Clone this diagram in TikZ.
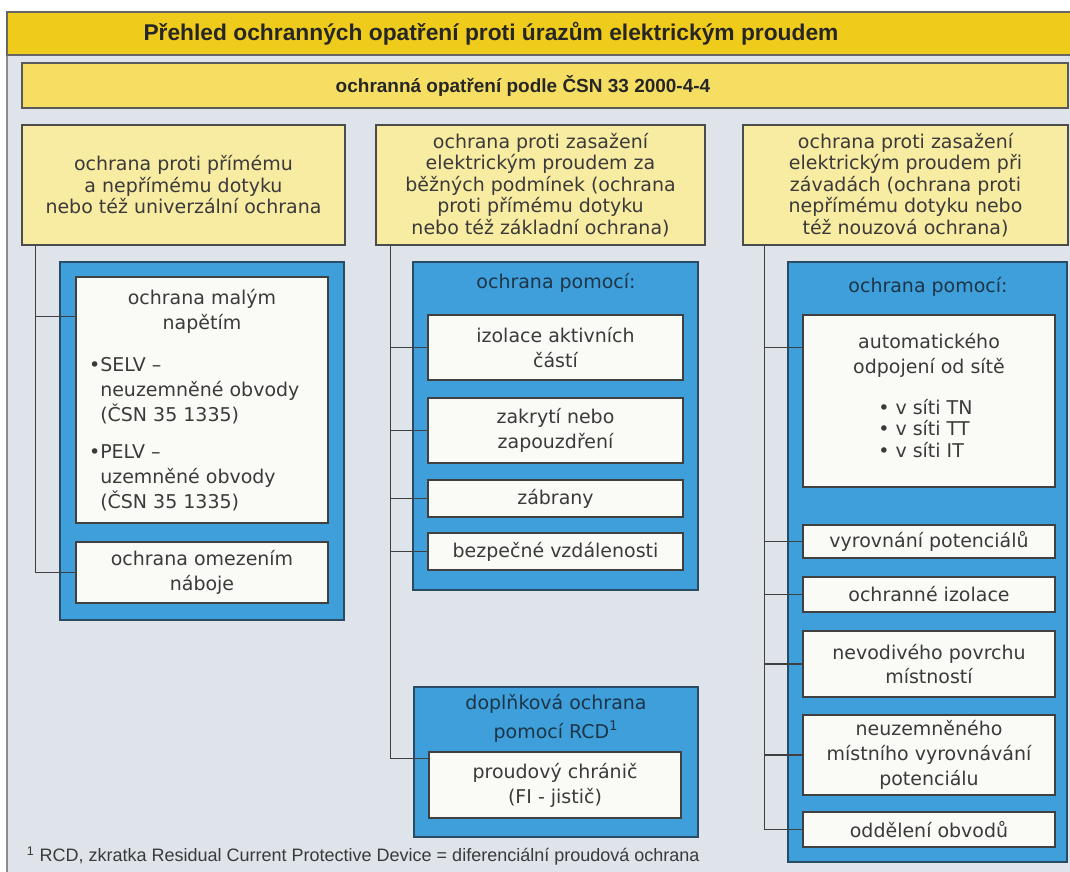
\documentclass[tikz,border=0pt]{standalone}
\usepackage{fontspec}
\setmainfont{DejaVu Sans}
\newfontfamily\headfont{Liberation Sans}
\definecolor{TitleGold}{HTML}{EFCB1C}
\definecolor{SubYellow}{HTML}{F6DE63}
\definecolor{BoxYellow}{HTML}{F8EBA2}
\definecolor{PanelGray}{HTML}{DEE4E9}
\definecolor{BoxBlue}{HTML}{3E9FDB}
\definecolor{EdgeBlue}{HTML}{2A4B63}
\definecolor{BoxWhite}{HTML}{FAFAF6}
\definecolor{TextGray}{HTML}{3A3A3A}
\definecolor{HeadNavy}{HTML}{1D3547}
\usetikzlibrary{calc, positioning}
\newlength\px
\setlength\px{0.025cm}

\tikzset{
  boxsize/.style 2 args={minimum width=#1\px, minimum height=#2\px},
  ybox/.style={draw=black!70, line width=1pt, fill=BoxYellow, inner sep=0pt,
     align=center, text=TextGray},
  bbox/.style={draw=EdgeBlue, line width=1.1pt, fill=BoxBlue, inner sep=0pt},
  wbox/.style={draw=black!75, line width=1pt, fill=BoxWhite, inner sep=0pt,
     align=center, text=TextGray, font=\fontsize{13.5}{17.7}\selectfont},
  wtext/.style={align=center, text=TextGray, inner sep=0pt, font=\fontsize{13.5}{17.7}\selectfont},
  bhead/.style={align=center, text=HeadNavy},
  link/.style={draw=black!75, line width=0.8pt}
}

\begin{document}
\begin{tikzpicture}[x=0.025cm, y=-0.025cm, font=\fontsize{13.5}{15.3}\selectfont]
   \useasboundingbox (0,0) rectangle (1070,872);
   \clip (0,0) rectangle (1070,872);
   % Background
   \fill[white] (0,0) rectangle (1070,872);
   \draw[fill=PanelGray, draw=black!45, line width=0.8pt] (7,55) rectangle (1080,880);
   % Title bars
   \draw[fill=TitleGold, draw=black!60, line width=0.8pt] (7,12) rectangle (1080,55);
   \node[font=\headfont\bfseries\fontsize{16.2}{19}\selectfont, text=black!85] (title) at (491,34)
      {Přehled ochranných opatření proti úrazům elektrickým proudem};
   \draw[fill=SubYellow, draw=black!65, line width=1pt] (22,63) rectangle (1068,108);
   \node[font=\headfont\bfseries\fontsize{13.5}{16}\selectfont, text=black!85] (subtitle) at (523,86)
      {ochranná opatření podle ČSN 33 2000-4-4};

   % Yellow group boxes
   \node[ybox, boxsize={323}{120}] (y1) at (183.5,185)
      {ochrana proti přímému\\ a nepřímému dotyku\\ nebo též univerzální ochrana};
   \node[ybox, boxsize={329}{120}] (y2) at (540.5,185)
      {ochrana proti zasažení\\ elektrickým proudem za\\ běžných podmínek (ochrana\\
       proti přímému dotyku\\ nebo též základní ochrana)};
   \node[ybox, boxsize={325}{120}] (y3) at (905.5,185)
      {ochrana proti zasažení\\ elektrickým proudem při\\ závadách (ochrana proti\\
       nepřímému dotyku nebo\\ též nouzová ochrana)};

   % Blue frames
   \node[bbox, boxsize={284}{358}] (b1) at (202,441) {};
   \node[bbox, boxsize={285}{328}] (b2) at (555.5,426) {};
   \node[bbox, boxsize={284}{150}] (b3) at (556,762) {};
   \node[bbox, boxsize={279}{600}] (b4) at (927.5,562) {};
   \node[bhead] (p2) at (556,283) {ochrana pomocí:};
   \node[bhead] (p4) at (928,287) {ochrana pomocí:};
   \node[bhead, font=\fontsize{13.5}{20.5}\selectfont] (p3) at (556,718)
      {doplňková ochrana\\ pomocí RCD\textsuperscript{1}};

   % Left column
   \node[wbox, boxsize={252}{246}] (w11) at (202,400) {};
   \node[wtext] (w11h) at (202,311) {ochrana malým\\ napětím};
   \node[wtext, align=left, anchor=north west] (w11l) at (100,357)
      {\llap{•}SELV –\\ neuzemněné obvody\\ (ČSN 35 1335)\\[9pt]
       \llap{•}PELV –\\ uzemněné obvody\\ (ČSN 35 1335)};
   \node[wbox, boxsize={252}{61}] (w12) at (202,572.5) {ochrana omezením\\ náboje};

   % Middle column
   \node[wbox, boxsize={255}{65}] (w21) at (555.5,347.5) {izolace aktivních\\ částí};
   \node[wbox, boxsize={255}{65}] (w22) at (555.5,430.5) {zakrytí nebo\\ zapouzdření};
   \node[wbox, boxsize={255}{37}] (w23) at (555.5,498.5) {zábrany};
   \node[wbox, boxsize={255}{37}] (w24) at (555.5,551.5) {bezpečné vzdálenosti};
   \node[wbox, boxsize={252}{66}] (w31) at (555,785) {proudový chránič\\ (FI - jistič)};

   % Right column
   \node[wbox, boxsize={252}{172}] (w41) at (929,401) {};
   \node[wtext] (w41h) at (929,355) {automatického\\ odpojení od sítě};
   \node[wtext, align=left, anchor=north west,
      font=\fontsize{13.5}{15.3}\selectfont] (w41l) at (878,399)
      {• v síti TN\\ • v síti TT\\ • v síti IT};
   \node[wbox, boxsize={252}{33}] (w42) at (929,541.5) {vyrovnání potenciálů};
   \node[wbox, boxsize={252}{35}] (w43) at (929,594.5) {ochranné izolace};
   \node[wbox, boxsize={252}{66}] (w44) at (929,664) {nevodivého povrchu\\ místností};
   \node[wbox, boxsize={252}{80}] (w45) at (929,755) {neuzemněného\\ místního vyrovnávání\\ potenciálu};
   \node[wbox, boxsize={252}{35}] (w46) at (929,829.5) {oddělení obvodů};

   % Connectors
   \coordinate (t1) at ($(y1.south west)+(14,0)$);
   \draw[link] (t1) |- ($(w11.north west)+(0,40)$);
   \draw[link] (t1) |- (w12.west);
   \coordinate (t2) at ($(y2.south west)+(15,0)$);
   \foreach \n in {w21, w22, w23, w24}
      \draw[link] (t2) |- (\n.west);
   \draw[link] (t2) |- ($(w31.north west)+(0,7)$);
   \coordinate (t3) at ($(y3.south west)+(22,0)$);
   \draw[link] (t3) |- ($(w41.north west)+(0,33)$);
   \foreach \n in {w42, w43, w44, w45, w46}
      \draw[link] (t3) |- (\n.west);

   % Footnote
   \node[anchor=west, font=\headfont\fontsize{12.8}{15}\selectfont, text=TextGray] (note) at (22,856)
      {\textsuperscript{1} RCD, zkratka Residual Current Protective Device = diferenciální proudová ochrana};
\end{tikzpicture}
\end{document}
